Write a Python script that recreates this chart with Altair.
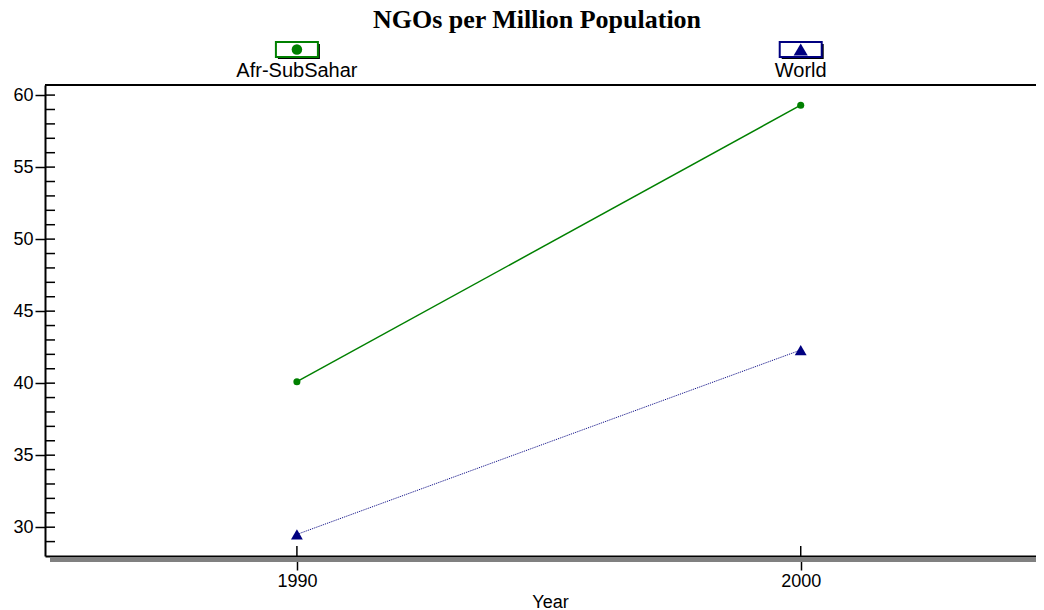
import altair as alt
import pandas as pd

# ---- data ----
years = [1990, 2000]
series = ["Afr-SubSahar", "World"]
afr_values = [40.1, 59.3]
world_values = [29.5, 42.3]
colors = ["#008000", "#000080"]
y_major = [30, 35, 40, 45, 50, 55, 60]
y_minor = list(range(29, 61))

W, H = 991, 471

df = pd.DataFrame({
    "year": years * 2,
    "value": afr_values + world_values,
    "series": [series[0]] * 2 + [series[1]] * 2,
})
leg = pd.DataFrame({"year": years, "series": series})
ticks_y = pd.DataFrame({"value": y_minor})
one = pd.DataFrame({"a": [0]})

x_scale = alt.Scale(domain=[1985, 2004.67], nice=False, zero=False)
y_scale = alt.Scale(domain=[28, 60.7], nice=False, zero=False)
color_scale = alt.Scale(domain=series, range=colors)

x_axis = alt.Axis(values=years, format="d", title="Year", tickSize=14,
                  labelPadding=2, titleX=505, titleY=51, titleBaseline="alphabetic",
                  titleFont="Liberation Sans", titleFontSize=18,
                  titleFontWeight="normal", titleColor="black")
y_axis = alt.Axis(values=y_major, title=None, tickSize=10, labelPadding=2)

X = alt.X("year:Q", scale=x_scale, axis=x_axis)
Y = alt.Y("value:Q", scale=y_scale, axis=y_axis)

# frame decorations
shadow = alt.Chart(one).mark_rect(color="#808080").encode(
    x=alt.value(5), x2=alt.value(W), y=alt.value(H + 1), y2=alt.value(H + 6))
top_rule = alt.Chart(one).mark_rule(color="black", strokeWidth=2).encode(
    x=alt.value(0), x2=alt.value(W), y=alt.value(0))

# inner ticks
inner_y = alt.Chart(ticks_y).mark_rule(color="black", strokeWidth=1.5).encode(
    y=Y, x=alt.value(0), x2=alt.value(10))
inner_x = alt.Chart(leg).mark_rule(color="black", strokeWidth=1.5).encode(
    x=X, y=alt.value(H - 10), y2=alt.value(H))

# data lines and points
afr = df[df.series == series[0]]
wld = df[df.series == series[1]]
line_afr = alt.Chart(afr).mark_line(color=colors[0], strokeWidth=1.5).encode(x=X, y=Y)
line_wld = alt.Chart(wld).mark_line(color=colors[1], strokeWidth=1, strokeDash=[1, 1]).encode(x=X, y=Y)
pts_afr = alt.Chart(afr).mark_point(shape="circle", filled=True, size=50, opacity=1,
                                    color=colors[0]).encode(x=X, y=Y)
pts_wld = alt.Chart(wld).mark_point(shape="triangle-up", filled=True, size=140, opacity=1,
                                    color=colors[1]).encode(x=X, y=Y)

# legend, drawn above each series' year
box_path = "M-1,-0.357L1,-0.357L1,0.357L-1,0.357Z"
leg_shadow = alt.Chart(leg).mark_point(shape=box_path, size=1764, filled=True, opacity=1,
                                       color="black", xOffset=2, yOffset=2).encode(
    x=X, y=alt.value(-35.5))
leg_box = alt.Chart(leg).mark_point(shape=box_path, size=1764, fill="white", fillOpacity=1,
                                    strokeWidth=2, opacity=1).encode(
    x=X, y=alt.value(-35.5), stroke=alt.Stroke("series:N", scale=color_scale, legend=None))
leg_afr = alt.Chart(leg[leg.series == series[0]]).mark_point(
    shape="circle", filled=True, size=110, opacity=1, color=colors[0]).encode(
    x=X, y=alt.value(-35.5))
leg_wld = alt.Chart(leg[leg.series == series[1]]).mark_point(
    shape="triangle-up", filled=True, size=200, opacity=1, color=colors[1]).encode(
    x=X, y=alt.value(-35.5))
leg_text = alt.Chart(leg).mark_text(font="Liberation Sans", fontSize=20, color="black",
                                    baseline="alphabetic", align="center").encode(
    x=X, y=alt.value(-8), text="series:N")

chart = alt.layer(
    shadow, line_afr, line_wld, pts_afr, pts_wld, inner_y, inner_x, top_rule,
    leg_shadow, leg_box, leg_afr, leg_wld, leg_text,
).properties(
    width=W, height=H,
    autosize=alt.AutoSizeParams(type="none"),
    padding={"left": 37, "top": 77, "right": 0, "bottom": 54},
    title=alt.TitleParams("NGOs per Million Population", font="Liberation Serif",
                          fontSize=26, fontWeight="bold", color="black",
                          anchor="middle", dx=-3.5, offset=5),
).configure_view(stroke=None).configure_axis(
    domainColor="black", domainWidth=2, tickColor="black", tickWidth=1.5,
    labelColor="black", labelFont="Liberation Sans", labelFontSize=18, grid=False,
)

chart.save("out.html", embed_options={"renderer": "svg", "actions": False})
